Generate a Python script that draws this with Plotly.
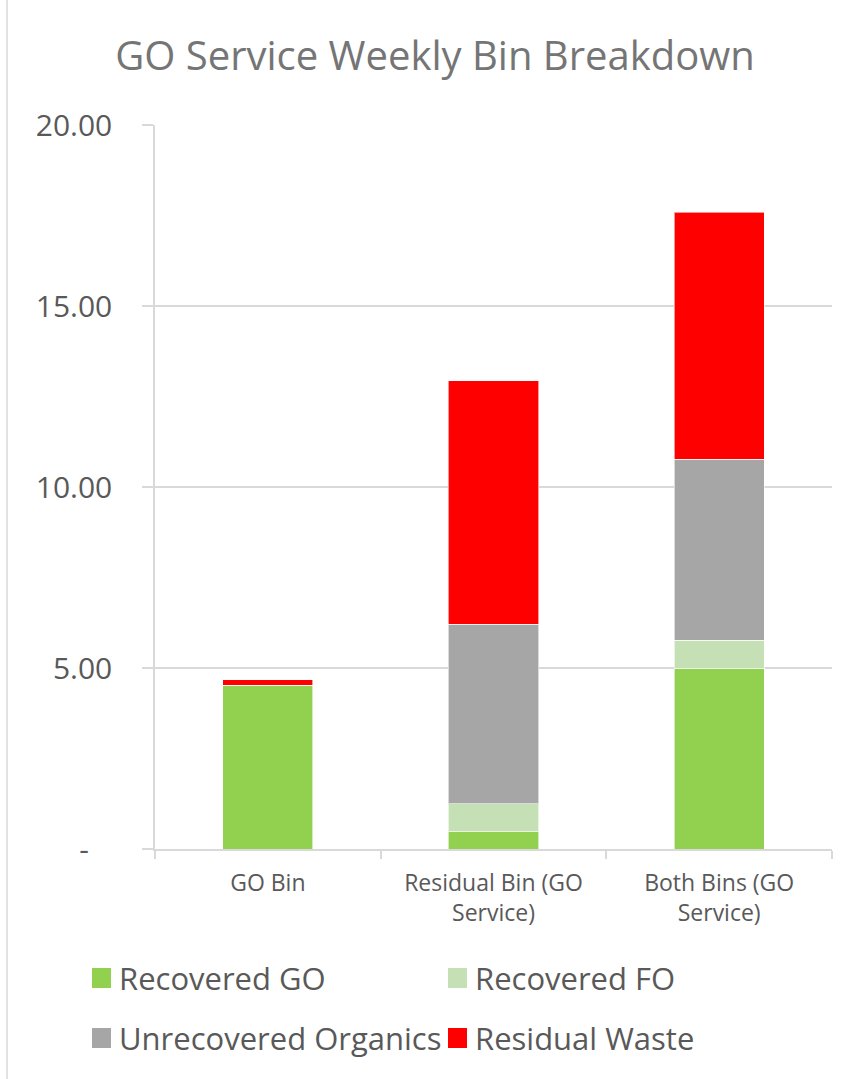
import plotly.graph_objects as go

# Weekly bin composition (kg per household per week)
categories = ["GO Bin", "Residual Bin (GO<br>Service)", "Both Bins (GO<br>Service)"]
series_names = ["Recovered GO", "Recovered FO", "Unrecovered Organics", "Residual Waste"]
recovered_go = [4.53, 0.48, 5.00]
recovered_fo = [0.00, 0.77, 0.77]
unrecovered_organics = [0.00, 4.96, 5.00]
residual_waste = [0.14, 6.73, 6.82]
series_colors = ["#92D050", "#C5E0B4", "#A6A6A6", "#FF0000"]

y_tickvals = [0, 5, 10, 15, 20]
y_ticktext = ["-\u00a0\u00a0\u00a0", "5.00", "10.00", "15.00", "20.00"]

W, H = 857, 1079
L, R, T, B = 155, 25, 125, 230
PW, PH = W - L - R, H - T - B
FONT = "Open Sans"
TXT = "#595959"
GRID = "#D9D9D9"


def px_x(x):
    return (x - L) / PW


def px_y(y):
    return (H - B - y) / PH


fig = go.Figure()
for name, vals, col in zip(series_names,
                           [recovered_go, recovered_fo, unrecovered_organics, residual_waste],
                           series_colors):
    fig.add_trace(go.Bar(
        x=categories, y=vals, name=name,
        marker=dict(color=col, line=dict(color="rgba(255,255,255,0.6)", width=1)),
        showlegend=False,
    ))

# Legend drawn as swatches + labels in two columns
legend_pos = [(92, 978), (448, 978), (92, 1038), (448, 1038)]
shapes = []
annotations = []
for name, col, (lx, ly) in zip(series_names, series_colors, legend_pos):
    shapes.append(dict(type="rect", xref="paper", yref="paper",
                       x0=px_x(lx), x1=px_x(lx + 19), y0=px_y(ly - 10), y1=px_y(ly + 10),
                       fillcolor=col, line=dict(width=0)))
    annotations.append(dict(text=name, xref="paper", yref="paper",
                            x=px_x(lx + 25), y=px_y(ly), xanchor="left", yanchor="middle",
                            showarrow=False, font=dict(family=FONT, size=31, color=TXT)))

# Chart-area left border
shapes.append(dict(type="line", xref="paper", yref="paper",
                   x0=px_x(7), x1=px_x(7), y0=px_y(0), y1=px_y(H),
                   line=dict(color=GRID, width=1.5)))

fig.update_layout(
    width=W, height=H,
    margin=dict(l=L, r=R, t=T, b=B),
    paper_bgcolor="white", plot_bgcolor="white",
    barmode="stack", bargap=0.6,
    title=dict(text="GO Service Weekly Bin Breakdown", x=435 / W, xanchor="center",
               y=1 - 56 / H, yanchor="middle", yref="container",
               font=dict(family=FONT, size=40, color="#757575")),
    xaxis=dict(showline=True, linecolor=GRID, linewidth=1.5,
               ticks="outside", tickson="boundaries", ticklen=8, tickcolor=GRID, tickwidth=1.5,
               tickfont=dict(family=FONT, size=23, color=TXT), ticklabelstandoff=13,
               showgrid=False),
    yaxis=dict(range=[0, 20], tickvals=y_tickvals, ticktext=y_ticktext,
               showline=True, linecolor=GRID, linewidth=1.5,
               ticks="outside", ticklen=11, tickcolor=GRID, tickwidth=1.5,
               showgrid=True, gridcolor=GRID, gridwidth=1.5, zeroline=False,
               tickfont=dict(family=FONT, size=30, color=TXT), ticklabelstandoff=24),
    shapes=shapes,
    annotations=annotations,
)

fig.write_html("out.html")
